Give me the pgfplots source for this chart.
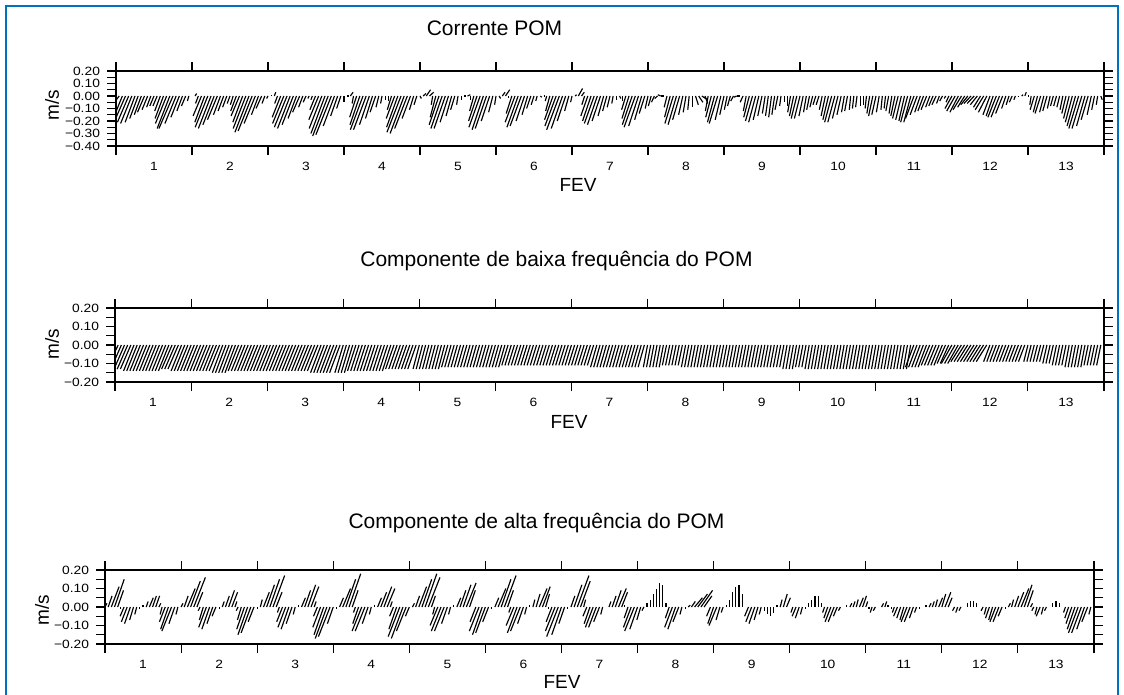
\documentclass[border=0pt]{standalone}
\usepackage{fontspec}
\setmainfont{Liberation Sans}
\newfontfamily\tickfont[FakeStretch=1.15]{Liberation Sans}
\usepackage{pgfplots}
\usepackage{pgfplotstable}
\pgfplotsset{compat=1.18}
\definecolor{framebl}{RGB}{0,112,192}

% hourly current components (u, v) in cm/s, one line per day
\pgfplotstableread[row sep=\\]{u v\\
0 3\\ -2 -3\\ -5 -14\\ -7 -18\\ -8 -21\\ -8 -22\\ -7 -21\\ -6 -18\\ -5 -15\\ -5 -13\\ -4 -11\\ -3 -9\\ -3 -8\\ -3 -8\\ -4 -12\\ -6 -18\\ -8 -22\\ -9 -26\\ -10 -26\\ -8 -22\\ -6 -17\\ -4 -12\\ -3 -8\\ -1 -4\\
0 0\\ 1 2\\ -2 -6\\ -6 -16\\ -7 -21\\ -9 -25\\ -9 -26\\ -8 -23\\ -7 -19\\ -5 -15\\ -4 -12\\ -3 -9\\ -2 -6\\ -2 -7\\ -4 -12\\ -6 -16\\ -7 -21\\ -9 -26\\ -10 -29\\ -10 -28\\ -8 -22\\ -5 -15\\ -4 -10\\ -2 -6\\
-1 -2\\ 0 1\\ 1 3\\ -2 -6\\ -6 -17\\ -8 -22\\ -9 -25\\ -9 -26\\ -8 -23\\ -6 -18\\ -5 -13\\ -3 -9\\ -2 -5\\ -1 -2\\ -1 -3\\ -4 -11\\ -7 -19\\ -9 -26\\ -10 -30\\ -11 -32\\ -11 -31\\ -8 -24\\ -5 -16\\ -3 -10\\
0 -5\\ 1 0\\ 2 3\\ -1 -6\\ -5 -17\\ -7 -23\\ -9 -27\\ -9 -27\\ -7 -23\\ -5 -18\\ -4 -13\\ -2 -9\\ -1 -6\\ 0 -3\\ 0 -4\\ -3 -11\\ -6 -18\\ -8 -25\\ -10 -29\\ -10 -30\\ -9 -26\\ -6 -18\\ -3 -11\\ -2 -7\\
1 -2\\ 2 2\\ 3 5\\ 3 3\\ -1 -7\\ -4 -17\\ -7 -23\\ -8 -26\\ -8 -26\\ -6 -21\\ -4 -16\\ -3 -11\\ -1 -7\\ 0 -3\\ 1 0\\ 2 1\\ 0 -3\\ -3 -12\\ -6 -20\\ -8 -25\\ -8 -27\\ -8 -26\\ -6 -20\\ -3 -13\\
-1 -7\\ 1 -2\\ 2 3\\ 3 5\\ 0 -2\\ -4 -14\\ -7 -21\\ -8 -25\\ -8 -24\\ -6 -20\\ -4 -15\\ -3 -10\\ -2 -7\\ -1 -4\\ 1 -1\\ 1 0\\ -1 -4\\ -3 -12\\ -6 -19\\ -8 -24\\ -9 -27\\ -8 -26\\ -6 -20\\ -3 -12\\
-1 -5\\ 1 1\\ 3 6\\ 2 3\\ -2 -7\\ -5 -16\\ -6 -20\\ -7 -22\\ -7 -23\\ -6 -20\\ -4 -16\\ -3 -12\\ -2 -9\\ -1 -6\\ 0 -3\\ 1 -2\\ 0 -4\\ -3 -11\\ -5 -18\\ -7 -23\\ -8 -25\\ -7 -24\\ -5 -19\\ -4 -14\\
-2 -10\\ -2 -8\\ -2 -5\\ -2 -2\\ -2 1\\ -2 0\\ -2 -9\\ -4 -17\\ -6 -22\\ -6 -23\\ -5 -19\\ -3 -15\\ -2 -13\\ -1 -11\\ 0 -9\\ 2 -7\\ 3 -5\\ 4 -3\\ 2 -6\\ -2 -12\\ -4 -17\\ -5 -21\\ -6 -22\\ -4 -19\\
-3 -15\\ -2 -11\\ -2 -8\\ -2 -4\\ -2 -1\\ -2 0\\ -2 -5\\ -2 -12\\ -4 -17\\ -5 -20\\ -5 -21\\ -4 -19\\ -3 -16\\ -2 -14\\ -2 -16\\ -2 -17\\ -2 -15\\ -2 -11\\ -1 -8\\ 0 -5\\ 0 -8\\ -2 -13\\ -3 -16\\ -4 -18\\
-4 -18\\ -3 -16\\ -2 -13\\ -2 -11\\ -2 -9\\ -2 -7\\ -2 -7\\ -2 -11\\ -3 -16\\ -4 -19\\ -5 -21\\ -5 -21\\ -4 -18\\ -3 -15\\ -2 -13\\ -2 -12\\ -1 -11\\ -1 -10\\ -1 -9\\ 0 -8\\ 0 -7\\ -1 -10\\ -2 -14\\ -3 -16\\
-3 -15\\ -2 -13\\ -1 -11\\ -1 -10\\ -2 -12\\ -2 -14\\ -3 -16\\ -4 -18\\ -4 -19\\ -4 -20\\ -5 -21\\ -5 -21\\ -6 -18\\ -5 -15\\ -4 -13\\ -4 -12\\ -4 -11\\ -3 -9\\ -3 -8\\ -3 -7\\ -2 -6\\ -2 -4\\ -1 -2\\ -2 -5\\
-5 -10\\ -6 -12\\ -6 -13\\ -6 -11\\ -5 -9\\ -5 -7\\ -5 -6\\ -5 -6\\ -5 -7\\ -5 -9\\ -6 -11\\ -6 -13\\ -5 -15\\ -5 -16\\ -6 -17\\ -6 -17\\ -5 -14\\ -3 -10\\ -2 -7\\ -2 -5\\ -1 -3\\ 0 -1\\ 1 1\\ 1 3\\
1 0\\ -1 -7\\ -3 -11\\ -3 -13\\ -4 -14\\ -3 -13\\ -3 -12\\ -2 -10\\ -2 -8\\ -2 -8\\ -2 -9\\ -2 -11\\ -3 -14\\ -4 -18\\ -5 -21\\ -6 -24\\ -7 -26\\ -7 -26\\ -6 -24\\ -5 -19\\ -3 -15\\ -2 -11\\ -1 -7\\ 1 -3\\
}\corrente

\pgfplotstableread[row sep=\\]{u v\\
-5 -12\\ -5 -12\\ -5 -13\\ -5 -13\\ -5 -13\\ -5 -13\\ -5 -14\\ -5 -14\\ -5 -14\\ -5 -14\\ -5 -14\\ -5 -14\\ -5 -14\\ -5 -14\\ -5 -14\\ -5 -14\\ -5 -14\\ -5 -14\\ -5 -13\\ -5 -13\\ -5 -13\\ -5 -14\\ -5 -14\\ -5 -14\\
-5 -14\\ -5 -14\\ -5 -14\\ -5 -14\\ -5 -14\\ -5 -14\\ -5 -14\\ -5 -14\\ -5 -14\\ -5 -14\\ -5 -15\\ -5 -15\\ -5 -15\\ -5 -15\\ -5 -15\\ -5 -14\\ -5 -14\\ -5 -14\\ -5 -14\\ -5 -14\\ -5 -14\\ -5 -14\\ -5 -14\\ -5 -14\\
-5 -14\\ -5 -14\\ -5 -14\\ -5 -14\\ -5 -14\\ -5 -14\\ -5 -14\\ -5 -14\\ -5 -14\\ -5 -14\\ -5 -14\\ -5 -14\\ -5 -14\\ -5 -14\\ -5 -14\\ -5 -14\\ -5 -14\\ -5 -15\\ -5 -15\\ -5 -15\\ -5 -15\\ -5 -15\\ -5 -15\\ -5 -15\\
-4 -15\\ -4 -15\\ -4 -15\\ -4 -15\\ -4 -14\\ -4 -14\\ -4 -14\\ -4 -14\\ -4 -14\\ -4 -14\\ -4 -14\\ -4 -14\\ -4 -14\\ -4 -14\\ -4 -14\\ -4 -14\\ -4 -13\\ -4 -13\\ -4 -13\\ -4 -13\\ -4 -13\\ -4 -13\\ -4 -13\\ -4 -13\\
-3 -13\\ -3 -13\\ -3 -13\\ -3 -13\\ -3 -13\\ -3 -13\\ -3 -13\\ -3 -13\\ -3 -13\\ -3 -12\\ -3 -12\\ -3 -12\\ -3 -12\\ -3 -12\\ -3 -12\\ -3 -12\\ -3 -12\\ -3 -12\\ -3 -12\\ -3 -12\\ -3 -12\\ -3 -12\\ -3 -12\\ -3 -12\\
-3 -12\\ -3 -12\\ -3 -12\\ -3 -12\\ -3 -11\\ -3 -11\\ -3 -11\\ -3 -11\\ -3 -11\\ -3 -11\\ -3 -11\\ -3 -11\\ -3 -11\\ -3 -11\\ -3 -11\\ -3 -11\\ -3 -11\\ -3 -11\\ -3 -11\\ -3 -11\\ -3 -11\\ -3 -11\\ -3 -11\\ -3 -11\\
-3 -11\\ -3 -11\\ -3 -11\\ -3 -11\\ -3 -11\\ -3 -11\\ -3 -11\\ -3 -11\\ -3 -12\\ -3 -12\\ -3 -12\\ -3 -12\\ -3 -12\\ -3 -12\\ -3 -12\\ -3 -12\\ -3 -12\\ -3 -12\\ -3 -12\\ -3 -12\\ -3 -12\\ -3 -12\\ -3 -12\\ -3 -12\\
-2 -12\\ -2 -12\\ -2 -12\\ -2 -12\\ -2 -12\\ -2 -12\\ -2 -11\\ -2 -11\\ -2 -11\\ -2 -11\\ -2 -11\\ -2 -11\\ -2 -12\\ -2 -12\\ -2 -12\\ -2 -12\\ -2 -12\\ -2 -12\\ -2 -12\\ -2 -12\\ -2 -12\\ -2 -12\\ -2 -12\\ -2 -12\\
-2 -12\\ -2 -12\\ -2 -12\\ -2 -12\\ -2 -12\\ -2 -12\\ -2 -12\\ -2 -12\\ -2 -12\\ -2 -12\\ -2 -12\\ -2 -12\\ -2 -12\\ -2 -12\\ -2 -12\\ -2 -12\\ -2 -12\\ -2 -12\\ -2 -12\\ -2 -12\\ -2 -13\\ -2 -13\\ -2 -13\\ -2 -13\\
-2 -12\\ -2 -12\\ -2 -12\\ -2 -13\\ -2 -13\\ -2 -13\\ -2 -13\\ -2 -13\\ -2 -13\\ -2 -13\\ -2 -13\\ -2 -13\\ -2 -13\\ -2 -13\\ -2 -13\\ -2 -13\\ -2 -13\\ -2 -13\\ -2 -13\\ -2 -13\\ -2 -13\\ -2 -13\\ -2 -13\\ -2 -13\\
-2 -13\\ -2 -13\\ -2 -13\\ -2 -13\\ -2 -13\\ -2 -13\\ -2 -13\\ -2 -13\\ -2 -13\\ -2 -13\\ -2 -13\\ -2 -13\\ -4 -12\\ -4 -12\\ -4 -12\\ -4 -12\\ -4 -12\\ -4 -11\\ -4 -11\\ -4 -11\\ -4 -11\\ -4 -11\\ -4 -10\\ -4 -10\\
-5 -10\\ -5 -10\\ -5 -10\\ -5 -9\\ -5 -9\\ -5 -9\\ -5 -9\\ -5 -9\\ -5 -9\\ -5 -9\\ -5 -9\\ -5 -9\\ -3 -9\\ -3 -9\\ -3 -9\\ -3 -9\\ -3 -9\\ -3 -9\\ -3 -9\\ -3 -9\\ -3 -9\\ -3 -9\\ -3 -9\\ -3 -9\\
-2 -9\\ -2 -9\\ -2 -9\\ -2 -9\\ -2 -9\\ -2 -9\\ -2 -10\\ -2 -10\\ -2 -10\\ -2 -11\\ -2 -11\\ -2 -11\\ -2 -11\\ -2 -12\\ -2 -12\\ -2 -12\\ -2 -12\\ -2 -12\\ -2 -12\\ -2 -11\\ -2 -11\\ -2 -11\\ -2 -11\\ -2 -11\\
}\baixa

\pgfplotstableread[row sep=\\]{u v\\
1 2\\ 2 6\\ 4 11\\ 5 15\\ 3 9\\ 0 -1\\ -2 -5\\ -3 -8\\ -3 -9\\ -2 -7\\ -1 -4\\ 0 -1\\ 0 1\\ 1 3\\ 2 5\\ 2 6\\ 2 6\\ 1 2\\ -1 -4\\ -3 -8\\ -4 -12\\ -5 -13\\ -3 -9\\ -1 -4\\
1 2\\ 2 6\\ 4 10\\ 5 14\\ 6 16\\ 3 8\\ -1 -2\\ -2 -7\\ -4 -11\\ -4 -12\\ -3 -9\\ -2 -5\\ 0 -1\\ 1 3\\ 2 6\\ 3 9\\ 3 8\\ 1 3\\ -1 -2\\ -2 -7\\ -4 -12\\ -5 -15\\ -5 -14\\ -3 -8\\
0 -1\\ 1 4\\ 3 8\\ 4 12\\ 5 15\\ 6 17\\ 3 8\\ -1 -3\\ -3 -8\\ -4 -11\\ -4 -12\\ -3 -9\\ -1 -4\\ 0 1\\ 2 5\\ 3 9\\ 4 12\\ 4 11\\ 1 3\\ -2 -5\\ -4 -11\\ -5 -15\\ -6 -17\\ -6 -16\\
-3 -9\\ 0 -1\\ 2 5\\ 4 10\\ 5 15\\ 6 18\\ 3 9\\ -1 -3\\ -3 -9\\ -5 -13\\ -5 -13\\ -3 -9\\ -1 -4\\ 0 1\\ 2 5\\ 3 8\\ 4 11\\ 4 10\\ 1 3\\ -2 -5\\ -4 -12\\ -6 -16\\ -6 -17\\ -5 -13\\
-2 -5\\ 1 2\\ 2 6\\ 4 11\\ 5 15\\ 6 18\\ 6 16\\ 2 6\\ -1 -4\\ -4 -10\\ -5 -13\\ -5 -13\\ -3 -9\\ -1 -4\\ 0 1\\ 2 5\\ 3 9\\ 4 12\\ 5 13\\ 3 9\\ 0 0\\ -3 -8\\ -5 -13\\ -5 -15\\
-5 -14\\ -3 -8\\ 0 -1\\ 2 5\\ 4 10\\ 5 15\\ 6 17\\ 3 9\\ -1 -3\\ -4 -10\\ -5 -14\\ -5 -13\\ -3 -9\\ -1 -4\\ 0 1\\ 1 4\\ 2 7\\ 4 10\\ 4 11\\ 2 7\\ 0 -1\\ -3 -8\\ -5 -13\\ -6 -16\\
-5 -15\\ -3 -9\\ 0 -1\\ 2 6\\ 4 12\\ 6 17\\ 5 14\\ 1 4\\ -2 -5\\ -3 -9\\ -4 -11\\ -4 -11\\ -3 -8\\ -1 -4\\ 0 0\\ 1 3\\ 2 6\\ 3 9\\ 4 10\\ 3 8\\ 0 1\\ -2 -6\\ -4 -11\\ -5 -13\\
-4 -12\\ -2 -7\\ -1 -2\\ 0 2\\ 0 4\\ 0 7\\ 0 10\\ 0 13\\ 0 12\\ 0 2\\ -2 -6\\ -4 -11\\ -4 -12\\ -3 -8\\ -1 -4\\ 0 -1\\ 1 1\\ 2 3\\ 4 5\\ 5 7\\ 6 9\\ 4 6\\ 0 0\\ -2 -5\\
-3 -9\\ -4 -10\\ -2 -7\\ -1 -3\\ 0 1\\ 0 4\\ 0 8\\ 0 11\\ 0 12\\ 0 7\\ 0 0\\ -2 -5\\ -3 -8\\ -3 -9\\ -2 -7\\ -1 -4\\ 0 -2\\ 0 -4\\ 0 -5\\ 0 -3\\ 0 1\\ 1 4\\ 2 7\\ 2 5\\
0 0\\ -1 -3\\ -2 -5\\ -2 -6\\ -1 -4\\ 0 -1\\ 0 2\\ 0 4\\ 0 6\\ 0 6\\ 0 2\\ -1 -3\\ -2 -6\\ -3 -8\\ -3 -8\\ -2 -5\\ -1 -2\\ 0 0\\ 0 1\\ 1 2\\ 1 3\\ 1 4\\ 2 5\\ 2 6\\
1 3\\ 0 -1\\ -1 -3\\ -1 -2\\ 0 0\\ 1 2\\ 1 3\\ 0 1\\ 0 -1\\ -1 -3\\ -2 -5\\ -2 -6\\ -2 -7\\ -3 -8\\ -3 -8\\ -2 -6\\ -1 -3\\ 0 -1\\ 0 0\\ 0 1\\ 1 2\\ 1 3\\ 1 4\\ 2 5\\
2 7\\ 3 8\\ 2 5\\ 0 0\\ -1 -2\\ -1 -3\\ -1 -2\\ 0 0\\ 0 2\\ 0 3\\ 0 3\\ 0 2\\ 0 0\\ -1 -2\\ -1 -4\\ -2 -6\\ -2 -7\\ -3 -8\\ -3 -8\\ -2 -5\\ 0 -1\\ 1 2\\ 1 4\\ 2 6\\
3 8\\ 4 10\\ 4 12\\ 3 9\\ 1 2\\ -1 -2\\ -1 -4\\ -2 -5\\ -1 -4\\ -1 -2\\ 0 0\\ 0 2\\ 0 3\\ 0 2\\ 0 0\\ -1 -3\\ -2 -6\\ -3 -9\\ -4 -12\\ -5 -14\\ -5 -14\\ -4 -12\\ -3 -8\\ -1 -4\\
}\alta

\pgfplotsset{
  stickaxis/.style={
    scale only axis, anchor=north west,
    xmin=0, xmax=13,
    axis line style={line width=0.65pt},
    tick align=outside,
    major tick length=4.5pt, minor tick length=4.5pt,
    tick style={black, line width=0.55pt},
    xtick={0.5,1.5,...,12.5},
    xticklabels={1,2,3,4,5,6,7,8,9,10,11,12,13},
    minor xtick={0,1,...,13},
    major x tick style={draw=none},
    tick label style={font=\tickfont\fontsize{6}{6}\selectfont},
  },
  sticks/.style={black, line width=0.58pt},
}

\begin{document}
\begin{tikzpicture}
\useasboundingbox (0,0) rectangle (562pt,-347.5pt);
\draw[framebl, line width=1.2pt] (3pt,-3pt) rectangle (559pt,-352pt);

\begin{axis}[stickaxis, at={(58pt,-35.5pt)}, width=494pt, height=37.5pt,
  ymin=-0.4, ymax=0.2,
  ytick={-0.4,-0.3,-0.2,-0.1,0,0.1,0.2},
  yticklabels={−0.40,−0.30,−0.20,−0.10,0.00,0.10,0.20},
  minor ytick={-0.35,-0.25,-0.15,-0.05,0.05,0.15}]
\addplot[sticks, quiver={u=\thisrow{u}*0.0185, v=\thisrow{v}*0.01}]
  table[x expr=\coordindex/24, y expr=0] {\corrente};
\end{axis}

\begin{axis}[stickaxis, at={(57.5pt,-154pt)}, width=494.5pt, height=37pt,
  ymin=-0.2, ymax=0.2,
  ytick={-0.2,-0.1,0,0.1,0.2},
  yticklabels={−0.20,−0.10,0.00,0.10,0.20},
  minor ytick={-0.15,-0.05,0.05,0.15}]
\addplot[sticks, quiver={u=\thisrow{u}*0.0275, v=\thisrow{v}*0.01}]
  table[x expr=\coordindex/24, y expr=0] {\baixa};
\end{axis}

\begin{axis}[stickaxis, at={(52.5pt,-285pt)}, width=494.5pt, height=37pt,
  ymin=-0.2, ymax=0.2,
  ytick={-0.2,-0.1,0,0.1,0.2},
  yticklabels={−0.20,−0.10,0.00,0.10,0.20},
  minor ytick={-0.15,-0.05,0.05,0.15}]
\addplot[sticks, quiver={u=\thisrow{u}*0.0255, v=\thisrow{v}*0.01}]
  table[x expr=\coordindex/24, y expr=0] {\alta};
\end{axis}

\begin{scope}[every node/.style={inner sep=0pt}]
\node[anchor=base, font=\fontsize{10.5}{12}\selectfont] at (247.25pt,-18pt) {Corrente POM};
\node[anchor=base, font=\fontsize{10.5}{12}\selectfont] at (278.25pt,-133.5pt) {Componente de baixa frequência do POM};
\node[anchor=base, font=\fontsize{10.5}{12}\selectfont] at (268.25pt,-264pt) {Componente de alta frequência do POM};
\node[anchor=base, font=\fontsize{9.5}{11}\selectfont] at (289pt,-96pt) {FEV};
\node[anchor=base, font=\fontsize{9.5}{11}\selectfont] at (284.5pt,-214pt) {FEV};
\node[anchor=base, font=\fontsize{9.5}{11}\selectfont] at (281pt,-344pt) {FEV};
\node[rotate=90, font=\fontsize{9.5}{10}\selectfont] at (26pt,-52.5pt) {m/s};
\node[rotate=90, font=\fontsize{9.5}{10}\selectfont] at (26pt,-172pt) {m/s};
\node[rotate=90, font=\fontsize{9.5}{10}\selectfont] at (21pt,-305pt) {m/s};
\end{scope}
\end{tikzpicture}
\end{document}
